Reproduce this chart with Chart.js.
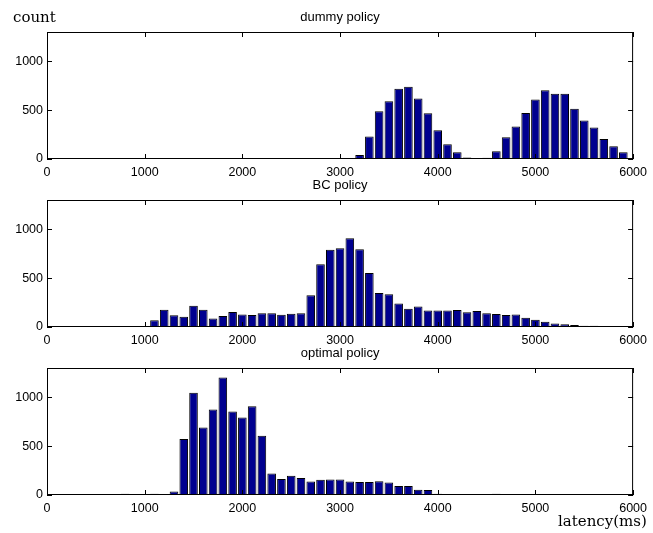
<!DOCTYPE html>
<html>
<head>
<meta charset="utf-8">
<script src="https://cdn.jsdelivr.net/npm/chart.js@4/dist/chart.umd.min.js"></script>
<style>
  body { margin: 0; background: #fff; }
  #wrap { position: relative; width: 653px; height: 533px; overflow: hidden; }
  #wrap canvas { position: absolute; left: 0; }
  .tex { position: absolute; font-family: "DejaVu Serif", serif; font-size: 15px; color: #000; line-height: 1; }
</style>
</head>
<body>
<div id="wrap">
  <canvas id="c1" width="653" height="179" style="top:0px"></canvas>
  <canvas id="c2" width="653" height="179" style="top:168px"></canvas>
  <canvas id="c3" width="653" height="179" style="top:336px"></canvas>
  <div class="tex" style="left:13px; top:10px;">count</div>
  <div class="tex" style="left:558px; top:514px;">latency(ms)</div>
</div>
<script>
// ============================================
// Data (histogram bins of 100 ms)
// ============================================

const latency = [
    0, 100, 200, 300, 400, 500, 600, 700, 800, 900,
    1000, 1100, 1200, 1300, 1400, 1500, 1600, 1700, 1800, 1900,
    2000, 2100, 2200, 2300, 2400, 2500, 2600, 2700, 2800, 2900,
    3000, 3100, 3200, 3300, 3400, 3500, 3600, 3700, 3800, 3900,
    4000, 4100, 4200, 4300, 4400, 4500, 4600, 4700, 4800, 4900,
    5000, 5100, 5200, 5300, 5400, 5500, 5600, 5700, 5800, 5900
];

const dummyCounts = [
    0, 0, 0, 0, 0, 0, 0, 0, 0, 0,
    0, 0, 0, 0, 0, 0, 0, 0, 0, 0,
    0, 0, 0, 0, 3, 3, 4, 5, 6, 3,
    4, 8, 40, 230, 490, 590, 718, 740, 620, 468,
    295, 150, 70, 15, 3, 13, 80, 222, 333, 472,
    608, 703, 667, 667, 515, 393, 322, 206, 130, 70
];

const bcCounts = [
    0, 0, 0, 0, 0, 0, 0, 0, 0, 0,
    0, 68, 177, 119, 106, 218, 176, 88, 112, 153,
    127, 122, 142, 140, 126, 136, 142, 325, 643, 790,
    807, 908, 797, 553, 349, 336, 241, 186, 210, 169,
    169, 169, 174, 152, 163, 142, 132, 122, 129, 95,
    75, 54, 37, 27, 20, 12, 12, 0, 0, 0
];

const optimalCounts = [
    0, 0, 0, 2, 2, 3, 3, 5, 14, 5,
    6, 14, 6, 37, 573, 1047, 692, 875, 1203, 854,
    793, 908, 607, 220, 163, 197, 173, 139, 156, 159,
    159, 139, 132, 132, 142, 129, 92, 92, 54, 51,
    14, 6, 5, 5, 5, 8, 12, 6, 5, 4,
    4, 5, 3, 2, 2, 2, 3, 2, 0, 0
];

const xTicks = [0, 1000, 2000, 3000, 4000, 5000, 6000];
const yTicks = [0, 500, 1000];

// ============================================
// MATLAB-like frame: box, inward ticks, title
// ============================================

const matlabFrame = {
    id: 'matlabFrame',
    afterDraw(chart, args, opts) {
        const { ctx, chartArea: a, scales } = chart;
        ctx.save();
        ctx.strokeStyle = '#000';
        ctx.lineWidth = 1;
        ctx.strokeRect(a.left + 0.5, a.top + 0.5, a.right - a.left - 1, a.bottom - a.top - 1);

        const len = 5;
        ctx.beginPath();
        xTicks.forEach(v => {
            const x = Math.round(scales.x.getPixelForValue(v)) + 0.5;
            ctx.moveTo(x, a.bottom);
            ctx.lineTo(x, a.bottom - len);
            ctx.moveTo(x, a.top);
            ctx.lineTo(x, a.top + len);
        });
        yTicks.forEach(v => {
            const y = Math.round(scales.y.getPixelForValue(v)) + 0.5;
            ctx.moveTo(a.left, y);
            ctx.lineTo(a.left + len, y);
            ctx.moveTo(a.right, y);
            ctx.lineTo(a.right - len, y);
        });
        ctx.stroke();

        ctx.fillStyle = '#000';
        ctx.font = '13px "Liberation Sans", Arial, sans-serif';
        ctx.textAlign = 'center';
        ctx.textBaseline = 'middle';
        ctx.fillText(opts.text, (a.left + a.right) / 2, a.top - 15);
        ctx.restore();
    }
};

function makeSubplot(canvasId, title, counts) {
    const ctx = document.getElementById(canvasId);
    return new Chart(ctx, {
        type: 'bar',
        data: {
            datasets: [{
                data: latency.map((x, i) => ({ x: x, y: counts[i] })),
                backgroundColor: '#00008F',
                borderColor: '#000',
                borderWidth: 1,
                borderSkipped: 'bottom',
                minBarLength: 1,
                barPercentage: 0.88,
                categoryPercentage: 1.0
            }]
        },
        options: {
            responsive: false,
            animation: false,
            layout: { padding: { top: 32, right: 16, left: 0, bottom: 0 } },
            plugins: {
                legend: { display: false },
                tooltip: { enabled: false },
                matlabFrame: { text: title }
            },
            scales: {
                x: {
                    type: 'linear',
                    min: 0,
                    max: 6000,
                    offset: false,
                    grid: { display: false, drawTicks: false },
                    border: { display: false },
                    afterBuildTicks: s => { s.ticks = xTicks.map(v => ({ value: v })); },
                    afterFit: s => { s.height = 20; },
                    ticks: {
                        autoSkip: false,
                        maxRotation: 0,
                        padding: 6,
                        color: '#000',
                        font: { family: '"Liberation Sans", Arial, sans-serif', size: 12.5 },
                        callback: v => String(v)
                    }
                },
                y: {
                    min: 0,
                    max: 1300,
                    grid: { display: false, drawTicks: false },
                    border: { display: false },
                    afterBuildTicks: s => { s.ticks = yTicks.map(v => ({ value: v })); },
                    afterFit: s => { s.width = 47; },
                    ticks: {
                        autoSkip: false,
                        padding: 4,
                        color: '#000',
                        font: { family: '"Liberation Sans", Arial, sans-serif', size: 12.5 },
                        callback: v => String(v)
                    }
                }
            }
        },
        plugins: [matlabFrame]
    });
}

makeSubplot('c1', 'dummy policy', dummyCounts);
makeSubplot('c2', 'BC policy', bcCounts);
makeSubplot('c3', 'optimal policy', optimalCounts);
</script>
</body>
</html>
